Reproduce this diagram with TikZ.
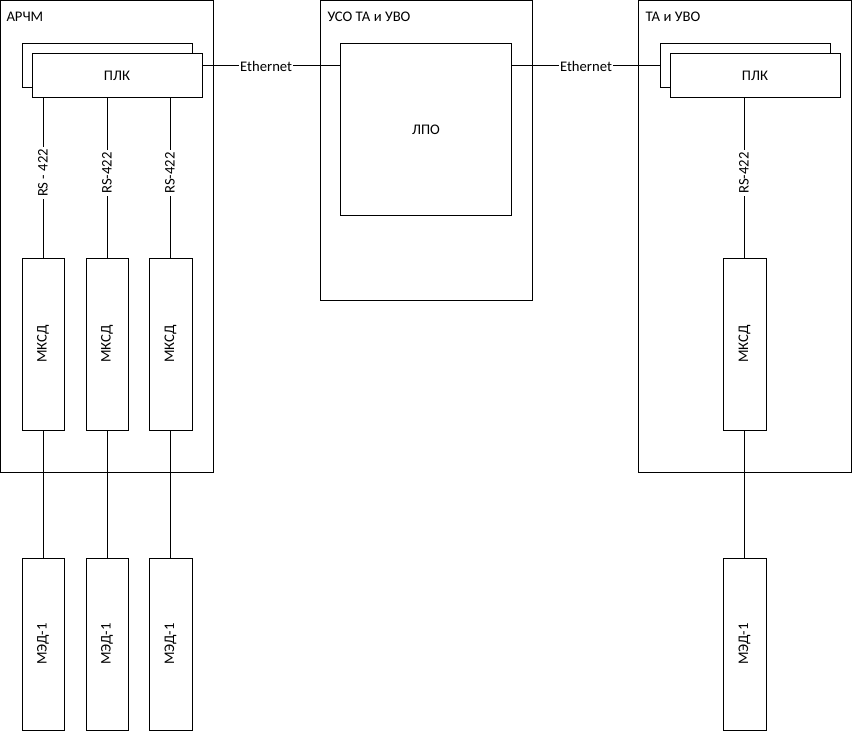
\documentclass[tikz,border=0pt]{standalone}
\usepackage{fontspec}
\setmainfont{Carlito}
\begin{document}
\begin{tikzpicture}[x=0.75pt,y=-0.75pt,line width=0.75pt,
  box/.style={draw,fill=white},
  lbl/.style={font=\fontsize{11pt}{13pt}\selectfont,inner sep=1pt},
  rlbl/.style={lbl,rotate=90,fill=white,inner sep=1.5pt},
  ttl/.style={font=\fontsize{11pt}{13pt}\selectfont,anchor=west,inner sep=0pt}]
\useasboundingbox (0,0) rectangle (852,731);
% outer boxes
\draw (0.5,0.5) rectangle (213,472) coordinate (archmBR);
\draw (320,1) rectangle (532,300);
\draw (638,0.5) rectangle (851.5,472);
\node[ttl] (tArchm) at (6,17) {АРЧМ};
\node[ttl] (tUso) at (327,17) {УСО ТА и УВО};
\node[ttl] (tTa) at (645,17) {ТА и УВО};
% LPO
\node[box,minimum width=171pt*0.75,minimum height=171pt*0.75,inner sep=0pt] (lpo) at (426,129.5) {};
\node[lbl] (lpoT) at (426,129.5) {ЛПО};
% left PLK
\draw[fill=white] (22,44) rectangle (192,88);
\node[box,minimum width=170*0.75pt,minimum height=44*0.75pt,inner sep=0pt,lbl] (plkL) at (117,76) {ПЛК};
% right PLK
\draw[fill=white] (660,44) rectangle (830,88);
\node[box,minimum width=170*0.75pt,minimum height=44*0.75pt,inner sep=0pt,lbl] (plkR) at (755,76) {ПЛК};
% Ethernet links
\coordinate (eL) at (202,66);
\coordinate (eR) at (660,66);
\draw (eL) -- (340,66) node[pos=0.465,lbl,fill=white] (eth1) {Ethernet};
\draw (512,66) -- (eR) node[midway,lbl,fill=white] (eth2) {Ethernet};
% MKSD and MED boxes
\foreach \n/\xa/\xb in {a/22/64, b/86/128, c/149/192, d/723/766}{
  \node[box,minimum width={(\xb-\xa)*0.75pt},minimum height=172*0.75pt,inner sep=0pt] (mk\n) at ({(\xa+\xb)/2},344) {};
  \node[box,minimum width={(\xb-\xa)*0.75pt},minimum height=172*0.75pt,inner sep=0pt] (me\n) at ({(\xa+\xb)/2},644) {};
}
% connectors
\foreach \n/\x/\t in {a/43/RS - 422, b/107/RS-422, c/170/RS-422, d/744/RS-422}{
  \draw (\x,98) -- (mk\n.north -| \x,0) node[pos=0.47,rlbl] {\t};
  \draw (mk\n.south -| \x,0) -- (me\n.north -| \x,0);
  \node[lbl,rotate=90] at (mk\n) {МКСД};
  \node[lbl,rotate=90] at (me\n) {МЭД-1};
}
\end{tikzpicture}
\end{document}
